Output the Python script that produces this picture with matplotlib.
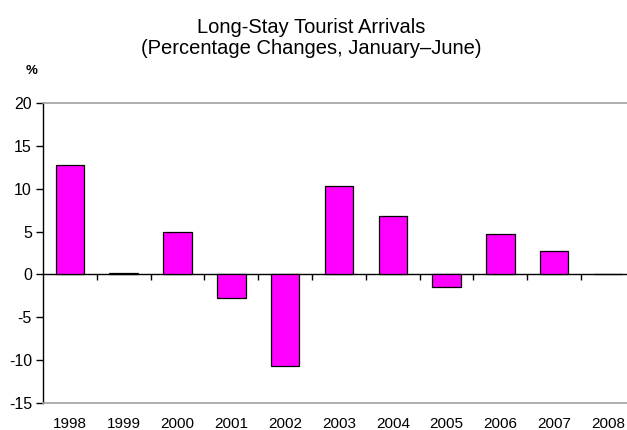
import numpy as np
import matplotlib
matplotlib.use("Agg")
from matplotlib import pyplot as plt

plt.rcParams['font.family'] = ['Liberation Sans', 'DejaVu Sans']
plt.rcParams['axes.unicode_minus'] = False

# long-stay arrivals, % change Jan-Jun
years = ['1998', '1999', '2000', '2001', '2002', '2003', '2004', '2005', '2006', '2007', '2008']
changes = [12.8, 0.2, 4.9, -2.7, -10.7, 10.3, 6.8, -1.5, 4.7, 2.7, 0.1]
yticks = [-15, -10, -5, 0, 5, 10, 15, 20]

fig = plt.figure(figsize=(6.27, 4.30), dpi=100)
ax = fig.add_axes([0.0686, 0.0628, 0.944, 0.6977])

x = np.arange(len(years))
ax.bar(x, changes, width=0.53, color='#ff00ff', edgecolor='black', linewidth=0.9, zorder=3)

ax.set_xlim(-0.5, len(years) - 0.5)
ax.set_ylim(yticks[0], yticks[-1])
ax.set_yticks(yticks)
ax.set_xticks(x)
ax.set_xticklabels(years)
ax.tick_params(axis='x', length=0, pad=10, labelsize=11)
ax.tick_params(axis='y', length=5, width=1, direction='out', labelsize=11.5, pad=3)

for side in ['top', 'bottom']:
    ax.spines[side].set_color('#a0a0a0')
    ax.spines[side].set_linewidth(1.2)
ax.spines['right'].set_visible(False)
ax.spines['left'].set_color('black')
ax.spines['left'].set_linewidth(1)

# zero line with category separators
zero = ax.secondary_xaxis((0 - yticks[0]) / (yticks[-1] - yticks[0]))
zero.set_xticks(x[:-1] + 0.5)
zero.set_xticklabels([])
zero.tick_params(length=4, width=1, direction='out', color='black')
zero.spines['bottom'].set_color('black')
zero.spines['bottom'].set_linewidth(1)

fig.text(0.497, 0.912, 'Long-Stay Tourist Arrivals\n(Percentage Changes, January\u2013June)',
         ha='center', va='center', fontsize=14.5, linespacing=1.15)
fig.text(0.05, 0.835, '%', ha='center', va='center', fontsize=9.5, fontweight='bold')

fig.savefig('out.png', dpi=100)
